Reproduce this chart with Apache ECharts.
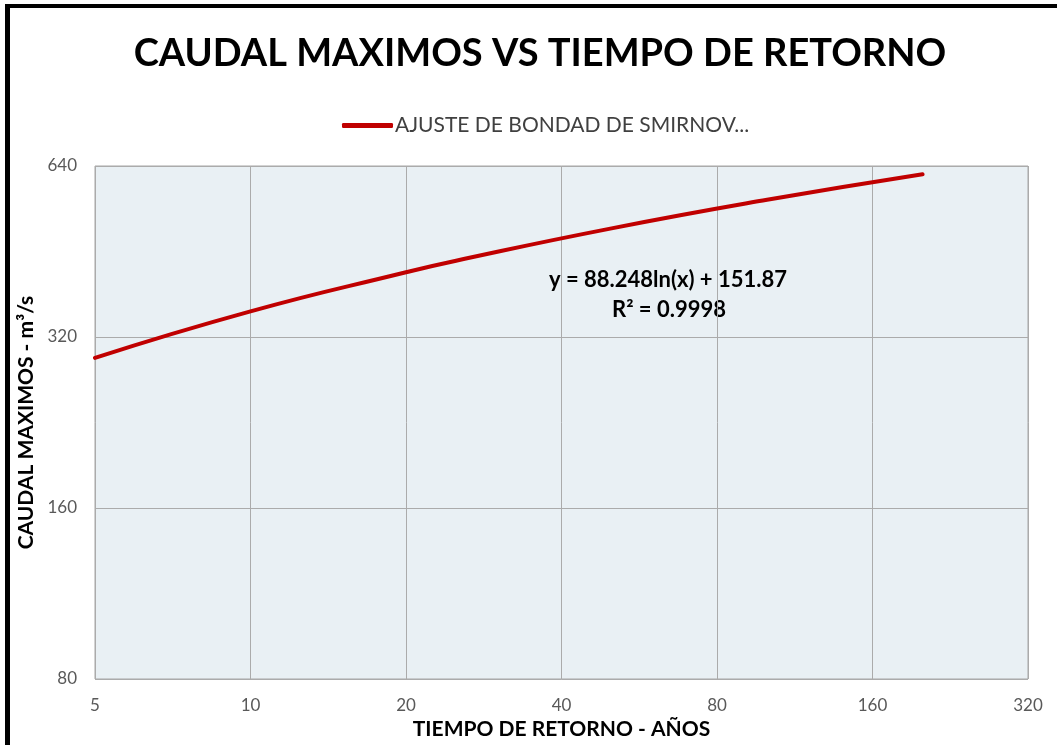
<!DOCTYPE html>
<html>
<head>
<meta charset="utf-8">
<script src="https://cdn.jsdelivr.net/npm/echarts@6/dist/echarts.min.js"></script>
<style>
  html, body { margin: 0; padding: 0; background: #fff; }
  #frame {
    position: absolute; left: 5px; top: 4px; width: 1052px; height: 741px;
    border-top: 4px solid #000; border-left: 5px solid #000;
    box-sizing: border-box; pointer-events: none; z-index: 2;
  }
  #chart { position: absolute; left: 0; top: 0; width: 1057px; height: 745px; }
</style>
</head>
<body>
<div id="chart"></div>
<div id="frame"></div>
<script>
// return periods (years) and fitted peak flows (m3/s)
const periods = [5, 10, 20, 25, 50, 100, 200];
const flows = [294, 355, 416, 436, 497, 558, 619];
const xTicks = [5, 10, 20, 40, 80, 160, 320];
const yTicks = [80, 160, 320, 640];

const font = "Lato";
const chart = echarts.init(document.getElementById("chart"), null, { renderer: "canvas" });

const option = {
  animation: false,
  title: {
    text: "CAUDAL MAXIMOS VS TIEMPO DE RETORNO",
    left: 535,
    top: 30,
    textAlign: "center",
    textStyle: { fontFamily: font, fontWeight: "bold", fontSize: 38, color: "#000" },
  },
  legend: {
    left: 337,
    top: 110,
    icon: "roundRect",
    itemWidth: 51,
    itemHeight: 5,
    itemGap: 4,
    textStyle: { fontFamily: font, fontSize: 21, color: "#404040", padding: [0, 0, 0, -3] },
    data: ["AJUSTE DE BONDAD DE SMIRNOV..."],
  },
  grid: { left: 95, right: 29, top: 166, bottom: 61, containLabel: false,
    backgroundColor: "#E9F0F4", show: true, borderColor: "#A6A6A6", borderWidth: 1 },
  xAxis: {
    type: "log",
    logBase: 2,
    min: 5,
    max: 320,
    name: "TIEMPO DE RETORNO - AÑOS",
    nameLocation: "middle",
    nameGap: 40,
    nameTextStyle: { fontFamily: font, fontWeight: "bold", fontSize: 21, color: "#000" },
    axisLine: { show: false },
    axisTick: { show: false, customValues: xTicks },
    axisLabel: { customValues: xTicks, margin: 18, fontFamily: font, fontSize: 17, color: "#595959" },
    splitLine: { show: true, lineStyle: { color: "#ABABAB", width: 1 } },
  },
  yAxis: {
    type: "log",
    logBase: 2,
    min: 80,
    max: 640,
    name: "CAUDAL MAXIMOS - m³/s",
    nameLocation: "middle",
    nameGap: 54,
    nameTextStyle: { fontFamily: font, fontWeight: "bold", fontSize: 21, color: "#000" },
    axisLine: { show: false },
    axisTick: { show: false, customValues: yTicks },
    axisLabel: { customValues: yTicks, margin: 18, fontFamily: font, fontSize: 17, color: "#595959" },
    splitLine: { show: true, lineStyle: { color: "#ABABAB", width: 1 } },
  },
  graphic: [
    {
      type: "text", left: 549, top: 269,
      style: { text: "y = 88.248ln(x) + 151.87", fontFamily: font, fontWeight: "bold", fontSize: 22, fill: "#000" },
    },
    {
      type: "text", left: 612, top: 299,
      style: { text: "R² = 0.9998", fontFamily: font, fontWeight: "bold", fontSize: 22, fill: "#000" },
    },
  ],
  series: [
    {
      name: "AJUSTE DE BONDAD DE SMIRNOV...",
      type: "line",
      smooth: true,
      showSymbol: false,
      lineStyle: { color: "#C00000", width: 4, cap: "round" },
      itemStyle: { color: "#C00000" },
      data: periods.map((t, i) => [t, flows[i]]),
    },
  ],
};
chart.setOption(option);
</script>
</body>
</html>
